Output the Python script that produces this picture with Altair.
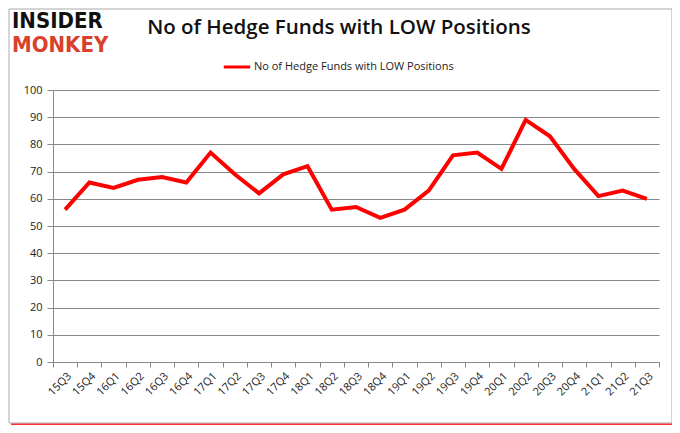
import altair as alt
import pandas as pd

quarters = ["15Q3","15Q4","16Q1","16Q2","16Q3","16Q4","17Q1","17Q2","17Q3","17Q4",
            "18Q1","18Q2","18Q3","18Q4","19Q1","19Q2","19Q3","19Q4","20Q1","20Q2",
            "20Q3","20Q4","21Q1","21Q2","21Q3"]
funds = [56, 66, 64, 67, 68, 66, 77, 69, 62, 69, 72, 56, 57, 53, 56, 63, 76, 77, 71, 89,
         83, 71, 61, 63, 60]
series_name = "No of Hedge Funds with LOW Positions"
y_ticks = list(range(0, 101, 10))

df = pd.DataFrame({"quarter": quarters, "funds": funds, "series": series_name})
one = pd.DataFrame({"a": [0]})

FONT = "Open Sans"

line = alt.Chart(df).mark_line(strokeWidth=4, strokeJoin="miter").encode(
    x=alt.X("quarter:N", sort=quarters, title=None,
            scale=alt.Scale(paddingInner=0, paddingOuter=0),
            axis=alt.Axis(labelAngle=-45, labelFontSize=11, labelFont=FONT, labelColor="#222",
                          domainColor="#888", tickColor="#888", tickSize=5, tickBand="extent",
                          labelPadding=3, grid=False)),
    y=alt.Y("funds:Q", title=None, scale=alt.Scale(domain=[0, 100]),
            axis=alt.Axis(values=y_ticks, labelFontSize=11, labelFont=FONT, labelColor="#222",
                          domainColor="#888", tickColor="#888", tickSize=6, labelPadding=5,
                          gridColor="#888", gridWidth=1)),
    color=alt.Color("series:N", scale=alt.Scale(range=["#ff0000"]),
                    legend=alt.Legend(orient="none", legendX=169, legendY=-38, title=None,
                                      direction="horizontal", symbolType="stroke",
                                      symbolStrokeWidth=3, symbolSize=700, labelLimit=0,
                                      labelFont=FONT, labelFontSize=11, labelColor="#222",
                                      labelOffset=2)),
)

frame = alt.Chart(one).mark_rect(fill=None, stroke="#aaa", strokeWidth=1).encode(
    x=alt.value(-44), x2=alt.value(619), y=alt.value(-81), y2=alt.value(333))
shadow = alt.Chart(one).mark_rule(stroke="#ff0000", strokeWidth=3, opacity=0.8).encode(
    x=alt.value(-42), x2=alt.value(619), y=alt.value(335))

title = alt.Chart(one).mark_text(text="No of Hedge Funds with LOW Positions", font=FONT,
                                 fontSize=20.5, fontWeight=600, align="center",
                                 baseline="middle", color="#111").encode(
    x=alt.value(286), y=alt.value(-62))
logo1 = alt.Chart(one).mark_text(text="INSIDER", font="DejaVu Sans Condensed", fontSize=22,
                                 fontWeight="bold", align="left", baseline="middle",
                                 color="#111").encode(x=alt.value(-41), y=alt.value(-69))
logo2 = alt.Chart(one).mark_text(text="MONKEY", font="DejaVu Sans Condensed", fontSize=22,
                                 fontWeight="bold", align="left", baseline="middle",
                                 color="#d9412b").encode(x=alt.value(-41), y=alt.value(-45))

chart = alt.layer(frame, shadow, line, title, logo1, logo2).properties(
    width=606, height=272,
    autosize=alt.AutoSizeParams(type="none"),
    padding={"left": 45, "top": 82, "right": 13, "bottom": 63},
    background="white",
).configure_view(stroke=None)

chart.save("out.html", embed_options={"renderer": "svg", "actions": False})
